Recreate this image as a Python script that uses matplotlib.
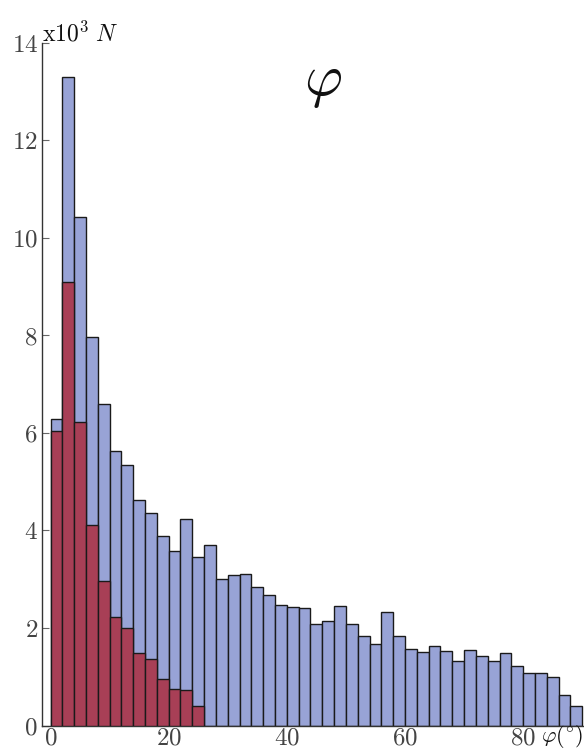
import matplotlib
matplotlib.use("Agg")
import matplotlib.pyplot as plt
import numpy as np

plt.rcParams['mathtext.fontset'] = 'cm'
plt.rcParams['font.family'] = ['DejaVu Serif']

# bin left edges (degrees), bin width 2
bin_width = 2
blue_counts = [6.29, 13.30, 10.42, 7.96, 6.60, 5.63, 5.35, 4.63, 4.36, 3.89,
               3.57, 4.24, 3.45, 3.71, 3.01, 3.09, 3.11, 2.84, 2.68, 2.48,
               2.42, 2.40, 2.08, 2.15, 2.46, 2.08, 1.84, 1.68, 2.32, 1.84,
               1.57, 1.51, 1.62, 1.53, 1.33, 1.55, 1.42, 1.33, 1.49, 1.21,
               1.07, 1.08, 0.99, 0.62, 0.40]
red_counts = [6.04, 9.10, 6.23, 4.12, 2.97, 2.23, 1.99, 1.49, 1.37, 0.95,
              0.75, 0.73, 0.40]
blue_edges = np.arange(len(blue_counts)) * bin_width
red_edges = np.arange(len(red_counts)) * bin_width

yticks = [0, 2, 4, 6, 8, 10, 12, 14]
xticks = [0, 20, 40, 60, 80]

W, H = 584, 749
fig = plt.figure(figsize=(W / 100, H / 100), dpi=100)
ax = fig.add_axes([42 / W, 23.5 / H, 542 / W, (725.5 - 42.7) / H])

blue_c = '#98a3d6'
red_c = '#a83f56'
ax.bar(blue_edges, blue_counts, width=bin_width, align='edge', color=blue_c,
       edgecolor='#1a1a1a', linewidth=1.0, zorder=2)
ax.bar(red_edges, red_counts, width=bin_width, align='edge', color=red_c,
       edgecolor='#1a1a1a', linewidth=1.0, zorder=3)

ax.set_xlim(-1.44, 90.3)
ax.set_ylim(0, 14)
for s in ['top', 'right']:
    ax.spines[s].set_visible(False)
for s in ['left', 'bottom']:
    ax.spines[s].set_color('#333333')
    ax.spines[s].set_linewidth(1.0)

ax.set_yticks(yticks)
ax.set_yticklabels([f'${v}$' for v in yticks])
ax.set_xticks(xticks)
ax.set_xticklabels([f'${v}$' for v in xticks])
ax.tick_params(axis='y', direction='in', length=5, color='#666666',
               labelsize=18, labelcolor='#444444', pad=3)
ax.tick_params(axis='x', direction='in', length=5, color='#4455aa',
               labelsize=18, labelcolor='#444444', pad=1)

fig.text(42 / W, 1 - 41 / H, r'$\mathrm{x10}^{3}\ N$', fontsize=17,
         ha='left', va='baseline', color='#111111')
fig.text(323 / W, 1 - 82 / H, r'$\varphi$', fontsize=42, ha='center',
         va='center', color='#111111')
fig.text(583 / W, 1 - 742 / H, r'$\varphi(^{\circ})$', fontsize=16, ha='right',
         va='baseline', color='#111111')

fig.savefig('out.png', dpi=100)
